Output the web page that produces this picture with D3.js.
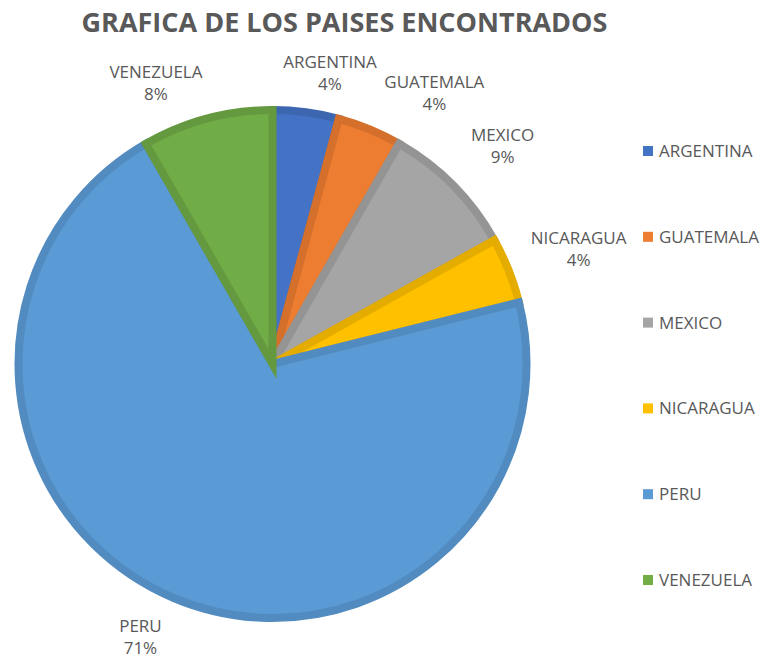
<!DOCTYPE html>
<html>
<head>
<meta charset="utf-8">
<script src="https://cdn.jsdelivr.net/npm/d3@7"></script>
<style>
    body { margin: 0; background: #fff; }
    svg text { font-family: "Open Sans", "DejaVu Sans", sans-serif; }
</style>
</head>
<body>
<div id="chart"></div>
<script>
// data
const countries = ["ARGENTINA", "GUATEMALA", "MEXICO", "NICARAGUA", "PERU", "VENEZUELA"];
const shares = [4.2, 4.1, 8.6, 4.2, 70.6, 8.3];
const fills = ["#4472C4", "#ED7D31", "#A5A5A5", "#FFC000", "#5B9BD5", "#70AD47"];
const borders = ["#3d66b0", "#d4702c", "#949494", "#e5ac00", "#528bbf", "#65993f"];

// label placement (Excel pushes some labels around)
const labelAngleNudge = [3.6, 8.3, 1.2, 1, 2.8, -7.6];
const labelRadius = [297, 316, 317, 327, 303, 304];

const width = 760, height = 660;
const cx = 272.5, cy = 364, r = 254;

let svg = d3.select("#chart").append("svg")
    .attr("width", width)
    .attr("height", height);

// title
svg.append("text")
    .attr("x", 344.5)
    .attr("y", 32)
    .attr("text-anchor", "middle")
    .attr("font-size", 27)
    .attr("font-weight", "bold")
    .attr("fill", "#595959")
    .text("GRAFICA DE LOS PAISES ENCONTRADOS");

let pie = d3.pie().sort(null).value(d => d)(shares);
let arc = d3.arc().innerRadius(0).outerRadius(r);

let g = svg.append("g").attr("transform", `translate(${cx},${cy})`);

g.selectAll(".slice")
    .data(pie)
    .enter().append("path")
    .attr("class", "slice")
    .attr("d", arc)
    .attr("fill", (d, i) => fills[i])
    .attr("stroke", (d, i) => borders[i])
    .attr("stroke-width", 8)
    .attr("stroke-linejoin", "miter");

// data labels
let total = d3.sum(shares);
let labels = g.selectAll(".lbl")
    .data(pie)
    .enter().append("g")
    .attr("class", "lbl")
    .attr("transform", (d, i) => {
        let a = (d.startAngle + d.endAngle) / 2 + labelAngleNudge[i] * Math.PI / 180;
        let lr = labelRadius[i];
        return `translate(${lr * Math.sin(a)},${-lr * Math.cos(a)})`;
    });

labels.append("text")
    .attr("y", -5)
    .attr("text-anchor", "middle")
    .attr("font-size", 17)
    .attr("fill", "#595959")
    .text((d, i) => countries[i]);

labels.append("text")
    .attr("y", 17)
    .attr("text-anchor", "middle")
    .attr("font-size", 17)
    .attr("fill", "#595959")
    .text(d => Math.round(d.value / total * 100) + "%");

// legend
let legendY = d3.scalePoint()
    .domain(countries)
    .range([151, 580]);

let legend = svg.selectAll(".legend")
    .data(countries)
    .enter().append("g")
    .attr("class", "legend")
    .attr("transform", d => `translate(643,${legendY(d)})`);

legend.append("rect")
    .attr("x", 0)
    .attr("y", -5)
    .attr("width", 10)
    .attr("height", 10)
    .attr("fill", (d, i) => fills[i]);

legend.append("text")
    .attr("x", 16)
    .attr("dy", "0.35em")
    .attr("font-size", 17)
    .attr("fill", "#595959")
    .text(d => d);
</script>
</body>
</html>
